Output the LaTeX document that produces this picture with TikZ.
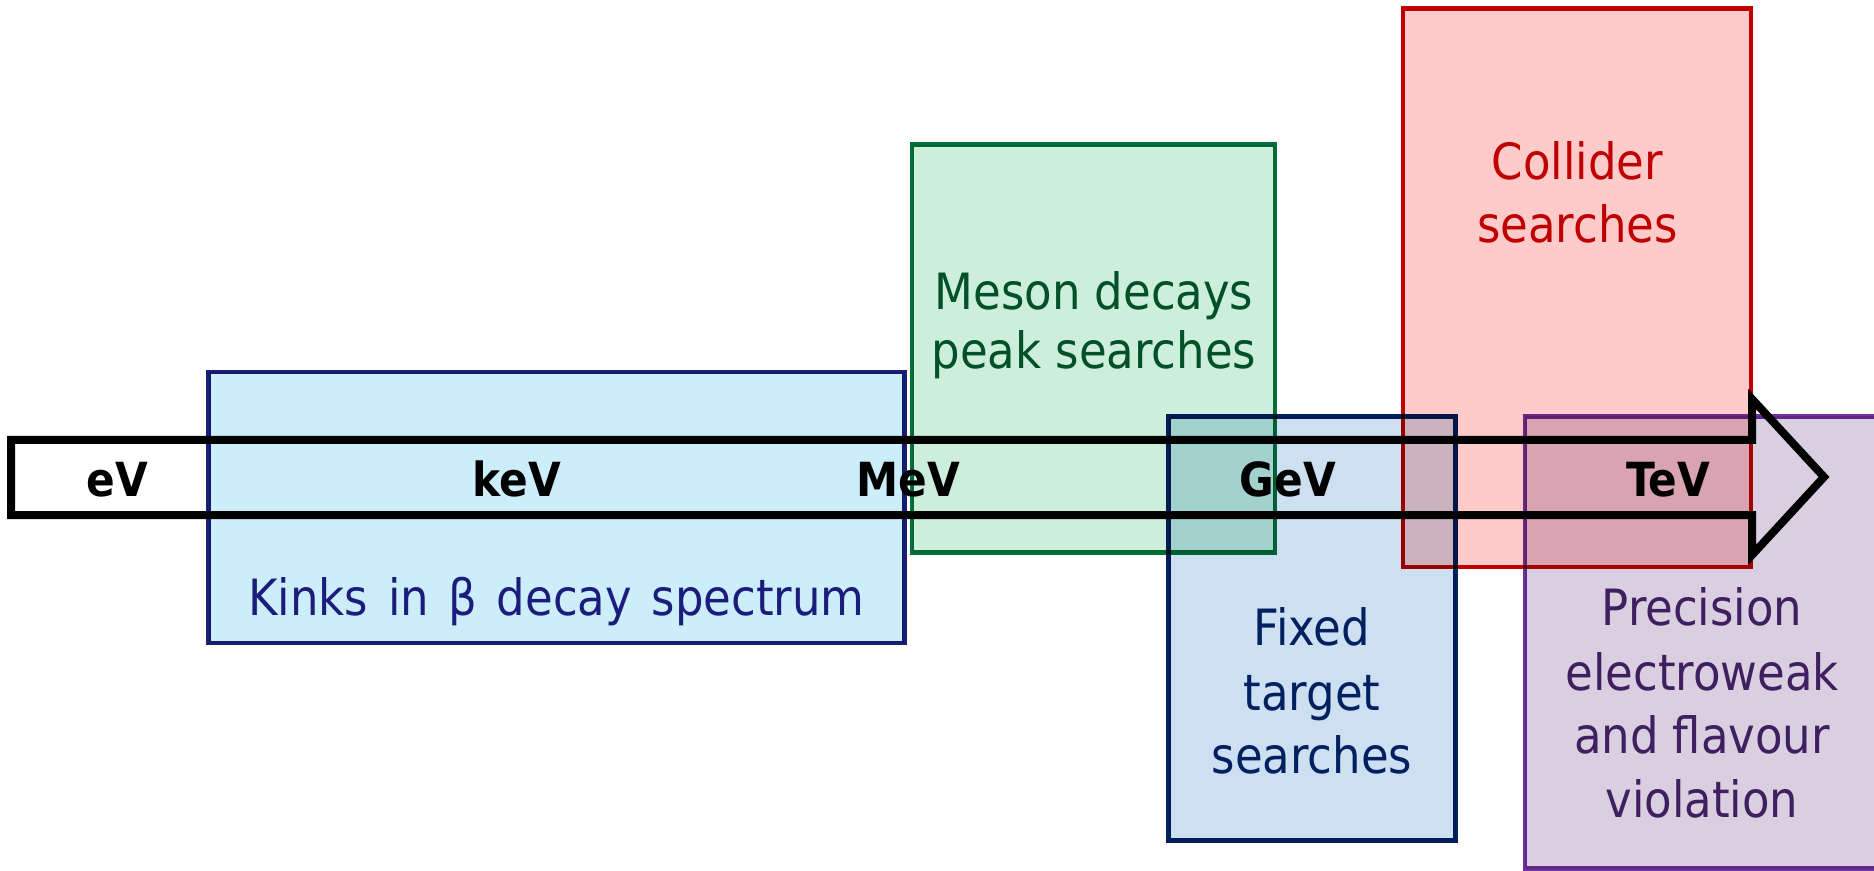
\documentclass[tikz,border=0pt]{standalone}
\usepackage{fontspec}
\setmainfont{DejaVu Sans Condensed}
\definecolor{kinksfill}{HTML}{CCEEFA}
\definecolor{kinksline}{HTML}{1A1E74}
\definecolor{kinkstext}{HTML}{1C1C7C}
\definecolor{mesonfill}{HTML}{CCEEDA}
\definecolor{mesonline}{HTML}{00703C}
\definecolor{mesontext}{HTML}{005028}
\definecolor{fixedfill}{HTML}{CCE0F2}
\definecolor{fixedline}{HTML}{002060}
\definecolor{collfill}{HTML}{FFCACA}
\definecolor{collline}{HTML}{C00000}
\definecolor{precfill}{HTML}{D9CFE0}
\definecolor{precline}{HTML}{7030A0}
\definecolor{prectext}{HTML}{3F1F5F}
\tikzset{
  areabox/.style={rectangle, line width=2.3pt, inner sep=0pt, outer sep=0pt, blend mode=multiply},
  areatext/.style={anchor=base, inner sep=0pt, font=\fontsize{25}{30}\selectfont},
  scalelabel/.style={anchor=base, inner sep=0pt, font=\fontsize{23.5}{28}\selectfont\bfseries},
  scalearrow/.style={draw=black, line width=4pt, line join=miter}
}
\begin{document}
\begin{tikzpicture}[x=0.5pt, y=-0.5pt]
\useasboundingbox (0,0) rectangle (1874,871);
\clip (0,0) rectangle (1874,871);
\fill[white] (0,0) rectangle (1874,871);
% boxes
\node[areabox, draw=kinksline, fill=kinksfill, minimum width=348pt, minimum height=135.5pt] (kinks) at (556.5,507.5) {};
\node[areabox, draw=mesonline, fill=mesonfill, minimum width=181.5pt, minimum height=204pt] (meson) at (1093.5,348.5) {};
\node[areabox, draw=fixedline, fill=fixedfill, minimum width=143.5pt, minimum height=212pt] (fixed) at (1312,628.5) {};
\node[areabox, draw=collline, fill=collfill, minimum width=174pt, minimum height=279.25pt] (coll) at (1577,287.75) {};
\node[areabox, draw=precline, fill=precfill, minimum width=187.5pt, minimum height=226pt] (prec) at (1712.5,642.5) {};
% energy arrow
\draw[scalearrow] (11,440) -- (1752,440) -- (1752,399) -- (1824,477) -- (1752,555) -- (1752,515) -- (11,515) -- cycle;
% scale labels
\node[scalelabel] (ev) at (117.5,496) {eV};
\node[scalelabel] (kev) at (517,496) {keV};
\node[scalelabel] (mev) at (908,496) {MeV};
\node[scalelabel] (gev) at (1288,496) {GeV};
\node[scalelabel] (tev) at (1668,496) {TeV};
% box texts
\node[areatext, text=kinkstext] (kinksA) at (556.5,615) {\spaceskip=9.8pt\relax Kinks in β decay spectrum};
\node[areatext, text=mesontext] (mesonA) at (1094,310) {Meson decays};
\node[areatext, text=mesontext] (mesonB) at (1094,369) {peak searches};
\node[areatext, text=collline] (collA) at (1577.5,180) {Collider};
\node[areatext, text=collline] (collB) at (1577.5,243) {searches};
\node[areatext, text=fixedline] (fixedA) at (1312,645) {Fixed};
\node[areatext, text=fixedline] (fixedB) at (1312,710) {target};
\node[areatext, text=fixedline] (fixedC) at (1312,773) {searches};
\node[areatext, text=prectext] (precA) at (1702,625) {Precision};
\node[areatext, text=prectext] (precB) at (1702,690) {electroweak};
\node[areatext, text=prectext] (precC) at (1702,753) {and flavour};
\node[areatext, text=prectext] (precD) at (1702,817) {violation};
\end{tikzpicture}
\end{document}
